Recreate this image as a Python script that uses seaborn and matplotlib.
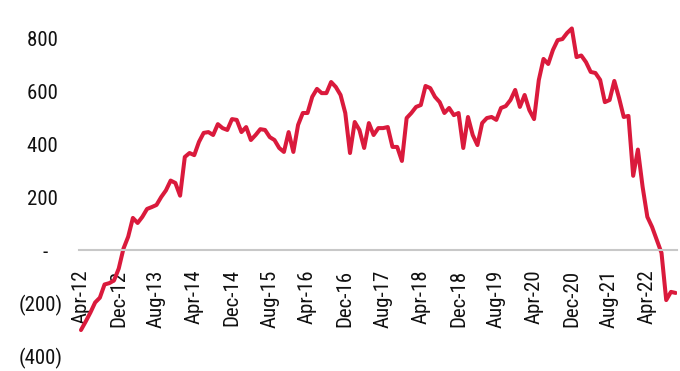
import pandas as pd
import matplotlib.pyplot as plt
from matplotlib import font_manager
import seaborn as sns

# monthly values, Apr-12 .. Oct-22
values = [-302, -270, -236, -198, -180, -130, -125, -115, -70, 5,
          50, 121, 102, 125, 155, 162, 170, 200, 225, 262,
          253, 205, 351, 366, 358, 408, 442, 445, 434, 475,
          460, 453, 494, 491, 445, 464, 415, 434, 456, 453,
          426, 415, 385, 370, 445, 370, 472, 517, 517, 578,
          608, 592, 592, 634, 615, 585, 517, 366, 483, 453,
          385, 479, 434, 460, 460, 464, 389, 389, 336, 498,
          517, 540, 547, 619, 611, 578, 558, 517, 536, 509,
          517, 385, 502, 434, 396, 479, 498, 502, 491, 536,
          543, 566, 604, 540, 585, 528, 494, 641, 721, 702,
          755, 792, 796, 819, 836, 728, 734, 709, 672, 668,
          642, 558, 566, 638, 574, 502, 506, 280, 379, 238,
          125, 87, 38, -11, -189, -158, -162]
months = pd.date_range('2012-04-01', periods=len(values), freq='MS')
df = pd.DataFrame({'idx': range(len(values)), 'value': values, 'month': months})

tick_idx = list(range(0, 121, 8))
tick_labels = [months[i].strftime('%b-%y') for i in tick_idx]
y_ticks = [800, 600, 400, 200, 0, -200, -400]
y_labels = ['800 ', '600 ', '400 ', '200 ', '-   ', '(200)', '(400)']

sns.set_style('white')
names = {f.name for f in font_manager.fontManager.ttflist}
fam = 'Liberation Sans'
for cand in ['Liberation Sans Narrow', 'Roboto Condensed', 'DejaVu Sans Condensed']:
    if cand in names:
        fam = cand
        break
plt.rcParams['font.family'] = [fam, 'DejaVu Sans']

fig = plt.figure(figsize=(6.8, 3.71), dpi=100)
ax = fig.add_axes([0.1163, 0.0404, 0.8794, 0.9143])
sns.lineplot(data=df, x='idx', y='value', color='#DA1A3C', linewidth=2.9, ax=ax)

ax.set_xlim(-0.4, 126.3)
ax.set_ylim(-400, 880)
for s in ['top', 'right', 'left']:
    ax.spines[s].set_visible(False)
ax.spines['bottom'].set_position(('data', 0))
ax.spines['bottom'].set_color('#c8c8c8')
ax.spines['bottom'].set_linewidth(1.5)

ax.set_xticks(tick_idx)
ax.set_xticklabels(tick_labels, rotation=90, fontsize=15, color='#111111')
ax.tick_params(axis='x', direction='out', length=5, width=1.5, color='#c8c8c8', pad=9)
ax.set_yticks(y_ticks)
ax.set_yticklabels(y_labels, fontsize=15, color='#111111')
ax.tick_params(axis='y', length=0, pad=12)
ax.set_xlabel('')
ax.set_ylabel('')

plt.savefig('out.png', dpi=100)
